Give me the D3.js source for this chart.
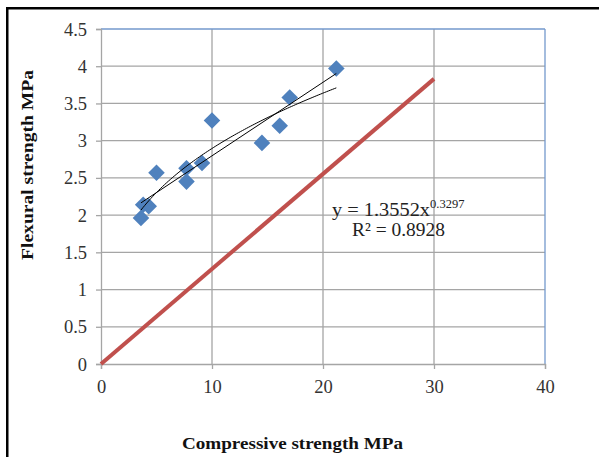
<!DOCTYPE html>
<html>
<head>
<meta charset="utf-8">
<script src="https://cdn.jsdelivr.net/npm/d3@7"></script>
<style>
  html, body { margin: 0; padding: 0; background: #fff; }
  svg { display: block; }
</style>
</head>
<body>
<svg id="chart" width="599" height="457"></svg>
<script>
// ---- data ----
const compressive = [3.6, 3.8, 4.3, 5.0, 7.7, 7.7, 9.1, 10.0, 14.5, 16.1, 17.0, 21.2];
const flexural    = [1.96, 2.14, 2.12, 2.57, 2.63, 2.45, 2.70, 3.27, 2.97, 3.20, 3.58, 3.97];
const refLineX = [0, 30];
const refLineY = [0, 3.83];
const powerCoef = 1.3552;
const powerExp = 0.3297;
const rSquared = "0.8928";
const xTicks = [0, 10, 20, 30, 40];
const yTicks = [0, 0.5, 1, 1.5, 2, 2.5, 3, 3.5, 4, 4.5];
const xTitle = "Compressive strength MPa";
const yTitle = "Flexural strength MPa";

const svg = d3.select("#chart");
const W = 599, H = 457;

// outer frame
svg.append("rect").attr("x", 7.25).attr("y", 8.25).attr("width", W + 10).attr("height", H + 10)
  .attr("fill", "#fff").attr("stroke", "#000").attr("stroke-width", 2.5);

const x = d3.scaleLinear().domain([0, 40]).range([101, 545]);
const y = d3.scaleLinear().domain([0, 4.5]).range([364, 29]);

// gridlines
const grid = svg.append("g");
grid.selectAll("line.h").data(yTicks.filter(d => d > 0 && d < 4.5)).join("line")
  .attr("x1", x(0)).attr("x2", x(40)).attr("y1", d => y(d)).attr("y2", d => y(d))
  .attr("stroke", "#a5a5a5").attr("stroke-width", 1.3);
grid.selectAll("line.v").data(xTicks.filter(d => d > 0 && d < 40)).join("line")
  .attr("y1", y(0)).attr("y2", y(4.5)).attr("x1", d => x(d)).attr("x2", d => x(d))
  .attr("stroke", "#a5a5a5").attr("stroke-width", 1.3);

// plot border (top & right blue)
svg.append("line").attr("x1", x(0)).attr("x2", x(40)).attr("y1", y(4.5)).attr("y2", y(4.5))
  .attr("stroke", "#7399cc").attr("stroke-width", 1.3);
svg.append("line").attr("x1", x(40)).attr("x2", x(40)).attr("y1", y(4.5)).attr("y2", y(0))
  .attr("stroke", "#7399cc").attr("stroke-width", 1.3);

// axes
const yAxis = d3.axisLeft(y).tickValues(yTicks).tickSize(5).tickPadding(9).tickFormat(d3.format(""));
const gy = svg.append("g").attr("transform", `translate(${x(0)},0)`).call(yAxis);
const xAxis = d3.axisBottom(x).tickValues(xTicks).tickSize(5).tickPadding(11).tickFormat(d3.format(""));
const gx = svg.append("g").attr("transform", `translate(0,${y(0)})`).call(xAxis);
[gx, gy].forEach(g => {
  g.select(".domain").attr("stroke", "#a5a5a5").attr("stroke-width", 1.3);
  g.selectAll(".tick line").attr("stroke", "#a5a5a5").attr("stroke-width", 1.3);
  g.selectAll(".tick text").attr("fill", "#333").attr("font-family", "Liberation Serif, serif")
    .attr("font-size", 18.5);
});
gy.selectAll(".tick text").attr("dy", "0.33em");

// red reference line
svg.append("line")
  .attr("x1", x(refLineX[0])).attr("y1", y(refLineY[0]))
  .attr("x2", x(refLineX[1])).attr("y2", y(refLineY[1]))
  .attr("stroke", "#c0504d").attr("stroke-width", 4);

// points
svg.append("g").selectAll("path").data(compressive.map((c, i) => [c, flexural[i]])).join("path")
  .attr("d", d3.symbol().type(d3.symbolDiamond2).size(175)())
  .attr("transform", d => `translate(${x(d[0])},${y(d[1])})`)
  .attr("fill", "#4f81bd");

// trendlines
const xmin = d3.min(compressive), xmax = d3.max(compressive);
const mx = d3.mean(compressive), my = d3.mean(flexural);
const slope = d3.sum(compressive, (c, i) => (c - mx) * (flexural[i] - my)) /
              d3.sum(compressive, c => (c - mx) * (c - mx));
const icpt = my - slope * mx;
svg.append("line")
  .attr("x1", x(xmin)).attr("y1", y(icpt + slope * xmin))
  .attr("x2", x(xmax)).attr("y2", y(icpt + slope * xmax))
  .attr("stroke", "#000").attr("stroke-width", 1);
const powPts = d3.range(0, 101).map(i => {
  const xv = xmin + (xmax - xmin) * i / 100;
  return [xv, powerCoef * Math.pow(xv, powerExp)];
});
svg.append("path").datum(powPts)
  .attr("d", d3.line().x(d => x(d[0])).y(d => y(d[1])))
  .attr("fill", "none").attr("stroke", "#000").attr("stroke-width", 1);

// equation
const eq = svg.append("text").attr("x", 332).attr("y", 216)
  .attr("font-family", "Liberation Serif, serif").attr("font-size", 19).attr("fill", "#222");
eq.append("tspan").text(`y = ${powerCoef}x`).attr("textLength", 98).attr("lengthAdjust", "spacingAndGlyphs");
eq.append("tspan").text(`${powerExp}`).attr("font-size", 12.5).attr("dy", -8);
svg.append("text").attr("x", 352).attr("y", 236)
  .attr("font-family", "Liberation Serif, serif").attr("font-size", 19).attr("fill", "#222")
  .attr("textLength", 93).attr("lengthAdjust", "spacingAndGlyphs")
  .text(`R² = ${rSquared}`);

// axis titles
svg.append("text").attr("x", 182).attr("y", 449)
  .attr("font-family", "Liberation Serif, serif").attr("font-weight", "bold").attr("font-size", 17)
  .attr("fill", "#111").attr("textLength", 221).attr("lengthAdjust", "spacingAndGlyphs")
  .text(xTitle);
svg.append("text").attr("transform", "translate(33,260) rotate(-90)")
  .attr("font-family", "Liberation Serif, serif").attr("font-weight", "bold").attr("font-size", 17)
  .attr("fill", "#111").attr("textLength", 190).attr("lengthAdjust", "spacingAndGlyphs")
  .text(yTitle);
</script>
</body>
</html>
